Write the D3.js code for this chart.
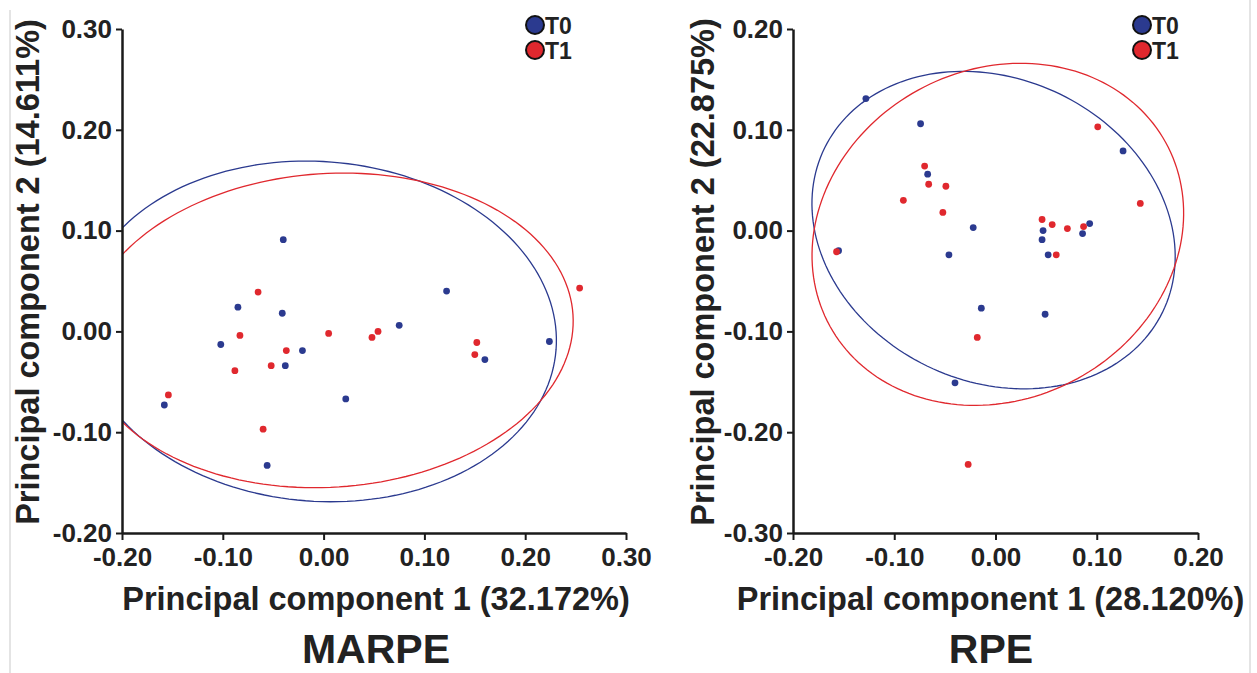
<!DOCTYPE html>
<html>
<head>
<meta charset="utf-8">
<script src="https://cdn.jsdelivr.net/npm/d3@7"></script>
<style>
body { margin: 0; background: #fff; }
svg { display: block; }
text { font-family: "Liberation Sans", Arial, sans-serif; font-weight: bold; fill: #222; }
</style>
</head>
<body>
<div id="drawing_region"></div>
<script>
// MARPE scores [PC1, PC2]
var marpeT0 = [[-0.040,0.091],[0.122,0.040],[-0.085,0.024],[-0.041,0.018],[0.075,0.006],
               [-0.102,-0.013],[-0.021,-0.019],[-0.038,-0.034],[0.224,-0.010],[0.160,-0.028],
               [0.022,-0.067],[-0.158,-0.073],[-0.056,-0.133]];
var marpeT1 = [[-0.065,0.039],[-0.083,-0.004],[0.005,-0.002],[0.048,-0.006],[0.054,0.000],
               [-0.037,-0.019],[-0.088,-0.039],[-0.052,-0.034],[0.152,-0.011],[0.150,-0.023],
               [0.254,0.043],[-0.154,-0.063],[-0.060,-0.097]];
// RPE scores [PC1, PC2]
var rpeT0 = [[-0.128,0.131],[-0.074,0.106],[-0.067,0.056],[-0.022,0.003],[-0.046,-0.024],
             [-0.155,-0.020],[-0.014,-0.077],[-0.040,-0.151],[0.047,0.000],[0.046,-0.009],
             [0.052,-0.024],[0.049,-0.083],[0.086,-0.003],[0.093,0.007],[0.126,0.079]];
var rpeT1 = [[-0.070,0.064],[-0.066,0.046],[-0.049,0.044],[-0.091,0.030],[-0.052,0.018],
             [-0.157,-0.021],[-0.018,-0.106],[-0.027,-0.232],[0.046,0.011],[0.056,0.006],
             [0.071,0.002],[0.087,0.004],[0.060,-0.024],[0.101,0.103],[0.143,0.027]];
// confidence ellipses: centre x, centre y, semi-axis a, semi-axis b, angle (deg)
var marpeEllipseT0 = [-0.005, 0.000, 0.2363, 0.1685, -4.4];
var marpeEllipseT1 = [0.0053, 0.001, 0.2426, 0.1556, 3.7];
var rpeEllipseT0 = [-0.0019, 0.0005, 0.1857, 0.1500, -26];
var rpeEllipseT1 = [0.0023, -0.0037, 0.1892, 0.1633, 28.8];

var marpeXTicks = [-0.2,-0.1,0,0.1,0.2,0.3];
var marpeYTicks = [-0.2,-0.1,0,0.1,0.2,0.3];
var rpeXTicks = [-0.2,-0.1,0,0.1,0.2];
var rpeYTicks = [-0.3,-0.2,-0.1,0,0.1,0.2];
var groups = ["T0","T1"];
var colors = ["#2b3a8f","#e0282e"];

var width = 1257, height = 673;
var svg = d3.select("#drawing_region").append("svg")
    .attr("width", width).attr("height", height);

// faint page borders
svg.append("line").attr("x1",10).attr("x2",10).attr("y1",10).attr("y2",height)
    .attr("stroke","#e4e4e4").attr("stroke-width",2);
svg.append("line").attr("x1",1250).attr("x2",1250).attr("y1",0).attr("y2",height)
    .attr("stroke","#e4e4e4").attr("stroke-width",2);

function fmt(d) { return Math.abs(d) < 1e-9 ? "0.00" : d.toFixed(2); }

function drawPanel(c) {
    var xScale = d3.scaleLinear().domain(c.xDomain).range(c.xRange);
    var yScale = d3.scaleLinear().domain(c.yDomain).range(c.yRange);

    svg.append("clipPath").attr("id", c.id + "clip")
        .append("rect")
        .attr("x", c.xRange[0]).attr("y", c.yRange[1])
        .attr("width", c.xRange[1] - c.xRange[0])
        .attr("height", c.yRange[0] - c.yRange[1]);

    var g = svg.append("g");

    // ellipses
    var line = d3.line().x(function(p){ return xScale(p[0]); }).y(function(p){ return yScale(p[1]); });
    c.ellipses.forEach(function(e, i) {
        var th = e[4] * Math.PI / 180;
        var pts = d3.range(0, 361, 2).map(function(t) {
            var r = t * Math.PI / 180;
            var u = e[2] * Math.cos(r), v = e[3] * Math.sin(r);
            return [e[0] + u * Math.cos(th) - v * Math.sin(th), e[1] + u * Math.sin(th) + v * Math.cos(th)];
        });
        g.append("path").attr("d", line(pts))
            .attr("fill", "none").attr("stroke", colors[i]).attr("stroke-width", 1.3)
            .attr("clip-path", "url(#" + c.id + "clip)");
    });

    // points
    c.series.forEach(function(s, i) {
        g.append("g").selectAll("circle").data(s).enter().append("circle")
            .attr("cx", function(d){ return xScale(d[0]); })
            .attr("cy", function(d){ return yScale(d[1]); })
            .attr("r", 3.4)
            .attr("fill", colors[i]);
    });

    // axes
    var xAxis = svg.append("g")
        .attr("transform", "translate(0," + c.yRange[0] + ")")
        .call(d3.axisBottom(xScale).tickValues(c.xTicks).tickFormat(fmt).tickSize(7).tickSizeOuter(0).tickPadding(8));
    var yAxis = svg.append("g")
        .attr("transform", "translate(" + c.xRange[0] + ",0)")
        .call(d3.axisLeft(yScale).tickValues(c.yTicks).tickFormat(fmt).tickSize(6).tickSizeOuter(0).tickPadding(4));
    [xAxis, yAxis].forEach(function(a) {
        a.select(".domain").attr("stroke", "#1a1a1a").attr("stroke-width", 2.5);
        a.selectAll(".tick line").attr("stroke", "#1a1a1a").attr("stroke-width", 2);
        a.selectAll(".tick text").attr("font-size", 26).attr("fill", "#222")
            .attr("font-family", "'Liberation Sans', Arial, sans-serif").attr("font-weight", "bold");
    });

    // axis titles
    svg.append("text")
        .attr("x", (c.xRange[0] + c.xRange[1]) / 2 + c.xTitleShift).attr("y", 610)
        .attr("text-anchor", "middle").attr("font-size", 32.5)
        .text(c.xlabel);
    svg.append("text")
        .attr("transform", "translate(" + c.yTitleX + ",272) rotate(-90)")
        .attr("text-anchor", "middle").attr("font-size", 32.5)
        .text(c.ylabel);
    svg.append("text")
        .attr("x", c.titleX).attr("y", 663)
        .attr("text-anchor", "middle").attr("font-size", 41).attr("fill", "#111")
        .text(c.title);

    // legend
    groups.forEach(function(name, i) {
        svg.append("circle")
            .attr("cx", c.legendX).attr("cy", 25 + i * 25).attr("r", 9)
            .attr("fill", colors[i]).attr("stroke", "#111").attr("stroke-width", 2);
        svg.append("text")
            .attr("x", c.legendX + 10).attr("y", 34 + i * 25)
            .attr("font-size", 23).attr("fill", "#111")
            .text(name);
    });
}

drawPanel({
    id: "marpe", xDomain: [-0.2, 0.3], yDomain: [-0.2, 0.3],
    xRange: [122, 626], yRange: [533, 29],
    xTicks: marpeXTicks, yTicks: marpeYTicks,
    series: [marpeT0, marpeT1], ellipses: [marpeEllipseT0, marpeEllipseT1],
    xlabel: "Principal component 1 (32.172%)", ylabel: "Principal component 2 (14.611%)",
    title: "MARPE", titleX: 376, xTitleShift: 2, yTitleX: 39, legendX: 535
});
drawPanel({
    id: "rpe", xDomain: [-0.2, 0.2], yDomain: [-0.3, 0.2],
    xRange: [793, 1198], yRange: [533, 29],
    xTicks: rpeXTicks, yTicks: rpeYTicks,
    series: [rpeT0, rpeT1], ellipses: [rpeEllipseT0, rpeEllipseT1],
    xlabel: "Principal component 1 (28.120%)", ylabel: "Principal component 2 (22.875%)",
    title: "RPE", titleX: 991, xTitleShift: -5, yTitleX: 714, legendX: 1142
});
</script>
</body>
</html>
